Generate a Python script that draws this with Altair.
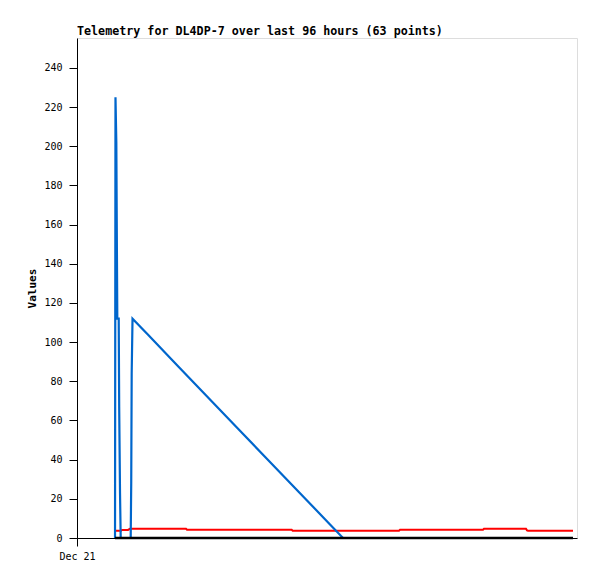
import altair as alt
import pandas as pd

# hours since start of window (Dec 21 00:00), values
blue_hours = [7.30, 7.39, 7.55, 7.64, 7.74, 8.01, 8.10, 8.26, 8.39, 10.31, 10.41, 10.50, 10.66,
              13.69, 19.45, 25.21, 30.97, 36.73, 42.82, 48.58, 51.07, 95.23]
blue_vals = [0, 225, 202, 157, 112, 112, 67, 23, 0, 0, 28, 84, 112,
             103.6, 87.6, 71.6, 55.7, 39.7, 22.9, 6.9, 0, 0]

red_hours = [7.30, 8.45, 8.64, 9.79, 10.18, 20.93, 21.12, 41.22, 41.41, 61.82, 62.02, 77.95,
             78.14, 86.20, 86.40, 86.60, 95.23]
red_vals = [3.7, 3.7, 4.1, 4.1, 4.7, 4.7, 4.2, 4.2, 3.75, 3.75, 4.25, 4.25,
            4.75, 4.75, 3.9, 3.75, 3.75]

black_hours = [7.30, 95.23]
black_vals = [0, 0]

y_ticks = [0, 20, 40, 60, 80, 100, 120, 140, 160, 180, 200, 220, 240]
x_label = "Dec 21"

FONT = "DejaVu Sans Mono"

blue = pd.DataFrame({"h": blue_hours, "v": blue_vals, "o": range(len(blue_hours))})
red = pd.DataFrame({"h": red_hours, "v": red_vals, "o": range(len(red_hours))})
black = pd.DataFrame({"h": black_hours, "v": black_vals, "o": range(len(black_hours))})

xs = alt.Scale(domain=[0, 96], nice=False, zero=False)
ys = alt.Scale(domain=[0, 255.3], nice=False)

xax = alt.Axis(values=[0], labelExpr=f"'{x_label}'", title=None, grid=False,
               tickSize=8, tickColor="#000", domainColor="#000", labelFont=FONT,
               labelFontSize=10, labelColor="#000", labelPadding=5, labelAlign="center")
yax = alt.Axis(values=y_ticks, title="Values", grid=False, tickSize=8, tickColor="#000",
               domainColor="#000", labelFont=FONT, labelFontSize=10, labelColor="#000",
               labelPadding=7, titleFont=FONT, titleFontSize=11, titleFontWeight="bold",
               titleColor="#000", titlePadding=6)


def layer(df, color, width):
    return alt.Chart(df).mark_line(color=color, strokeWidth=width, interpolate="linear").encode(
        x=alt.X("h:Q", scale=xs, axis=xax),
        y=alt.Y("v:Q", scale=ys, axis=yax),
        order="o:Q",
    )


chart = alt.layer(
    layer(red, "#ff0000", 2),
    layer(blue, "#0066cc", 2.2),
    layer(black, "#000000", 2.5),
).properties(
    width=500,
    height=500,
    padding={"left": 18, "top": 18, "right": 5, "bottom": 5},
    title=alt.TitleParams("Telemetry for DL4DP-7 over last 96 hours (63 points)",
                          anchor="start", frame="group", font=FONT, fontSize=11.7,
                          fontWeight="bold", color="#000", offset=0),
).configure_view(stroke="#333333", strokeWidth=1.2).configure(background="white")

chart.save("out.html", embed_options={"renderer": "svg", "actions": False})
